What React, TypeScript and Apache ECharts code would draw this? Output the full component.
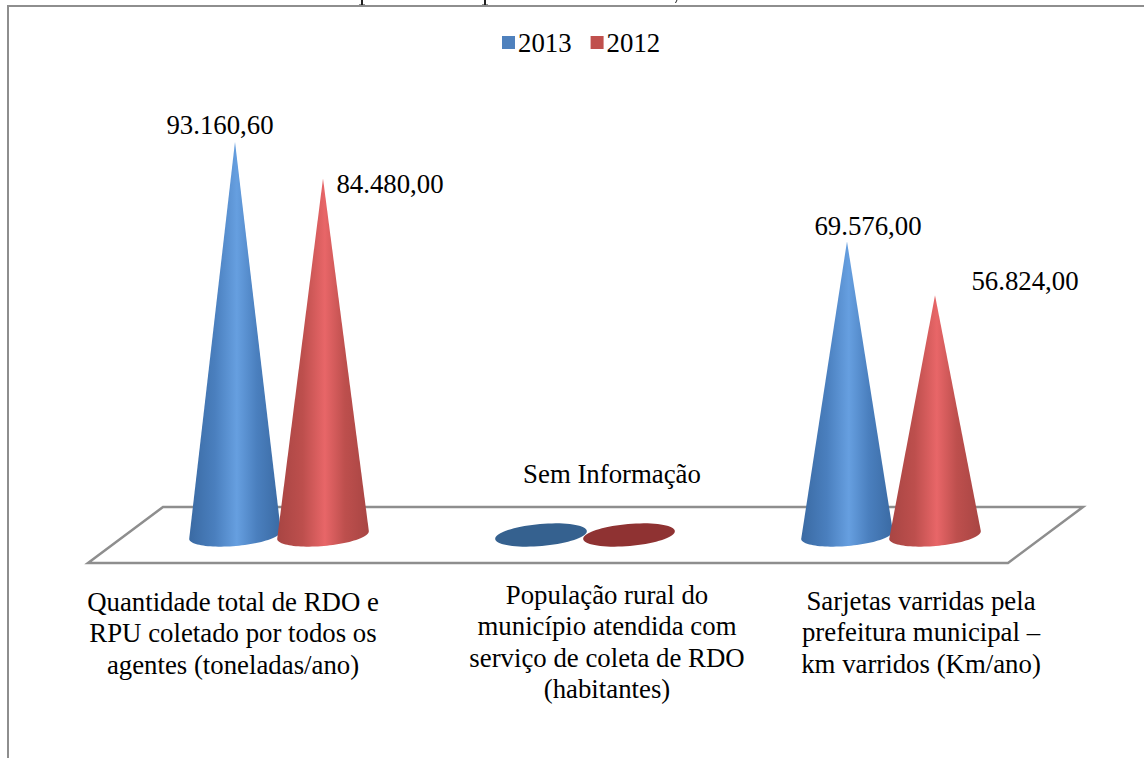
import React, { useEffect, useRef } from "react";
import * as echarts from "echarts";

const categories = [
  "Quantidade total de RDO e\nRPU coletado por todos os\nagentes (toneladas/ano)",
  "População rural do\nmunicípio atendida com\nserviço de coleta de RDO\n(habitantes)",
  "Sarjetas varridas pela\nprefeitura municipal –\nkm varridos (Km/ano)",
];
const values2013 = [93160.6, 0, 69576.0];
const values2012 = [84480.0, 0, 56824.0];
const labels2013 = ["93.160,60", "", "69.576,00"];
const labels2012 = ["84.480,00", "", "56.824,00"];
const noInfoLabel = "Sem Informação";

const FONT = "'Liberation Serif', 'Times New Roman', serif";
const FS = 26.8;
const RX = 46;
const RY = 11;
const TILT = (-5 * Math.PI) / 180;

function ellipsePoint(cx: number, cy: number, t: number): number[] {
  const ex = RX * Math.cos(t);
  const ey = RY * Math.sin(t);
  return [cx + ex * Math.cos(TILT) - ey * Math.sin(TILT), cy + ex * Math.sin(TILT) + ey * Math.cos(TILT)];
}

function coneRenderer(offset: number, edge: string, mid: string, light: string, flat: string) {
  return (params: any, api: any) => {
    const value = api.value(1);
    const top = api.coord([api.value(0), value]);
    const base = api.coord([api.value(0), 0]);
    const cx = top[0] + offset;
    const cy = base[1];
    const pts: number[][] = [];
    if (value === 0) {
      for (let i = 0; i < 72; i++) pts.push(ellipsePoint(cx, cy, (i * Math.PI) / 36));
      return { type: "polygon", shape: { points: pts }, style: { fill: flat } };
    }
    pts.push([cx, top[1]]);
    for (let i = 0; i <= 48; i++) pts.push(ellipsePoint(cx, cy, Math.PI - (i * Math.PI) / 48));
    return {
      type: "polygon",
      shape: { points: pts },
      style: {
        fill: new echarts.graphic.LinearGradient(0, 0, 1, 0, [
          { offset: 0, color: edge },
          { offset: 0.28, color: mid },
          { offset: 0.52, color: light },
          { offset: 0.74, color: mid },
          { offset: 1, color: edge },
        ]),
      },
    };
  };
}

const textEl = (text: string, x: number, y: number, align = "center") => ({
  type: "text",
  x,
  y,
  style: { text, fill: "#000", font: `${FS}px ${FONT}`, textAlign: align, textVerticalAlign: "middle", lineHeight: 31.5 },
});

const stub = (x1: number, y1: number, x2: number, y2: number, w: number) => ({
  type: "line",
  shape: { x1, y1, x2, y2 },
  style: { stroke: "#222", lineWidth: w },
});

export default function App() {
  const ref = useRef<HTMLDivElement>(null);
  useEffect(() => {
    const chart = echarts.init(ref.current!, undefined, { renderer: "svg" });
    chart.setOption({
      animation: false,
      backgroundColor: "#fff",
      legend: {
        top: 24,
        left: 497,
        icon: "rect",
        itemWidth: 13,
        itemHeight: 13,
        itemGap: 19,
        textStyle: { fontFamily: FONT, fontSize: FS, color: "#000", padding: [0, 0, 0, -2] },
        data: ["2013", "2012"],
      },
      grid: { left: 126, width: 918, top: 113, height: 422 },
      xAxis: { type: "category", data: categories, show: false },
      yAxis: { type: "value", min: 0, max: 100000, show: false },
      series: [
        {
          name: "2013",
          type: "custom",
          itemStyle: { color: "#4f81bd" },
          renderItem: coneRenderer(-44, "#3a6aa3", "#4a7fbe", "#669fe0", "#35618f"),
          encode: { x: 0, y: 1 },
          data: values2013.map((v, i) => [i, v]),
        },
        {
          name: "2012",
          type: "custom",
          itemStyle: { color: "#c0504d" },
          renderItem: coneRenderer(44, "#a84543", "#bd4f4d", "#e86668", "#8f3232"),
          encode: { x: 0, y: 1 },
          data: values2012.map((v, i) => [i, v]),
        },
      ],
      graphic: [
        {
          type: "polygon",
          z: -1,
          shape: { points: [[163, 507], [1083, 507], [1008, 563], [88, 563]] },
          style: { fill: "#fff", stroke: "#8e8e8e", lineWidth: 2.5 },
        },
        stub(362, 0, 362, 5, 2),
        stub(359, 5, 365, 5, 1),
        stub(485, 0, 485, 5, 2),
        stub(482, 5, 488, 5, 1),
        stub(677, 0, 675.5, 3, 1),
        { type: "line", shape: { x1: 8, y1: 6, x2: 1144, y2: 6 }, style: { stroke: "#8e8e8e", lineWidth: 2 } },
        { type: "line", shape: { x1: 8, y1: 5, x2: 8, y2: 758 }, style: { stroke: "#8e8e8e", lineWidth: 2 } },
        textEl(labels2013[0], 220, 125),
        textEl(labels2012[0], 390, 184),
        textEl(labels2013[2], 868, 226),
        textEl(labels2012[2], 1025, 281),
        textEl(noInfoLabel, 612, 474),
        textEl(categories[0], 233, 633),
        textEl(categories[1], 607, 642),
        textEl(categories[2], 921, 632),
      ],
    });
    return () => chart.dispose();
  }, []);
  return <div ref={ref} style={{ position: "fixed", left: 0, top: 0, width: 1144, height: 758 }} />;
}
